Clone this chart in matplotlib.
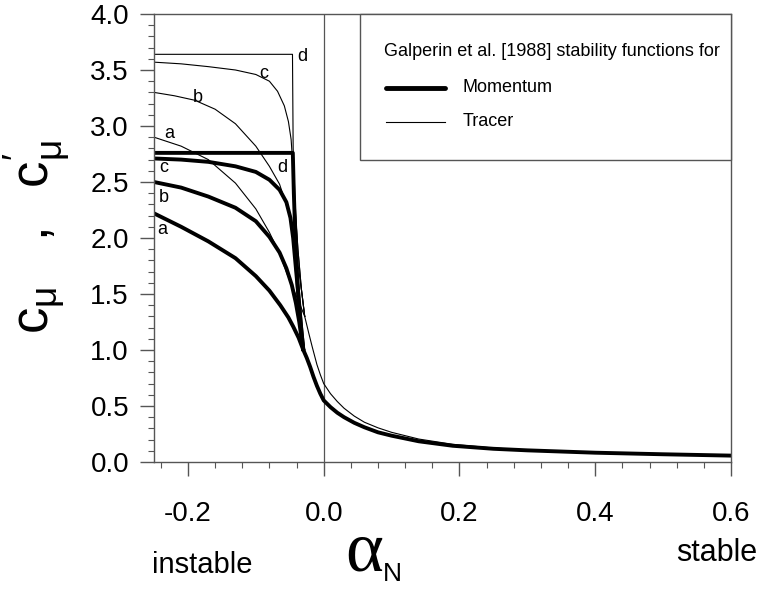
import matplotlib
matplotlib.use("Agg")
import matplotlib.pyplot as plt
from matplotlib.ticker import MultipleLocator
from matplotlib.lines import Line2D
from matplotlib.patches import Rectangle

plt.rcParams['font.family'] = ['Liberation Sans', 'DejaVu Sans']
plt.rcParams['mathtext.fontset'] = 'custom'
plt.rcParams['mathtext.rm'] = 'Liberation Sans'
plt.rcParams['mathtext.it'] = 'Liberation Sans'

# ---- data ----
# momentum (thick) curves, unstable branch
mom_a_x = [-0.25, -0.21, -0.17, -0.13, -0.10, -0.08, -0.064, -0.052, -0.045, -0.037, -0.03]
mom_a_y = [2.22, 2.10, 1.97, 1.82, 1.66, 1.53, 1.40, 1.29, 1.21, 1.11, 1.00]
mom_b_x = [-0.25, -0.21, -0.17, -0.13, -0.10, -0.08, -0.065, -0.055, -0.047, -0.041, -0.036,
           -0.033, -0.03]
mom_b_y = [2.50, 2.45, 2.37, 2.27, 2.15, 2.01, 1.87, 1.73, 1.58, 1.42, 1.25, 1.12, 1.00]
mom_c_x = [-0.25, -0.21, -0.17, -0.13, -0.10, -0.08, -0.065, -0.055, -0.049, -0.045,
           -0.042, -0.039, -0.036, -0.033, -0.03]
mom_c_y = [2.71, 2.70, 2.68, 2.64, 2.59, 2.52, 2.43, 2.32, 2.18, 2.00,
           1.80, 1.60, 1.40, 1.18, 1.00]
mom_d_x = [-0.25, -0.0455, -0.044, -0.042, -0.040, -0.037, -0.033, -0.03]
mom_d_y = [2.76, 2.76, 2.40, 2.05, 1.75, 1.45, 1.18, 1.00]
# momentum, common stable branch
mom_tail_x = [-0.03, -0.025, -0.02, -0.015, -0.01, -0.005, 0.0, 0.01, 0.02, 0.03, 0.045,
              0.06, 0.08, 0.10, 0.14, 0.19, 0.25, 0.30, 0.40, 0.50, 0.60]
mom_tail_y = [1.00, 0.93, 0.85, 0.76, 0.68, 0.61, 0.55, 0.49, 0.44, 0.40, 0.35,
              0.31, 0.265, 0.235, 0.185, 0.145, 0.118, 0.104, 0.083, 0.069, 0.057]

# tracer (thin) curves, unstable branch
tra_a_x = [-0.25, -0.21, -0.17, -0.13, -0.10, -0.08, -0.065, -0.054, -0.045, -0.036, -0.028]
tra_a_y = [2.90, 2.82, 2.70, 2.49, 2.26, 2.05, 1.86, 1.68, 1.55, 1.42, 1.30]
tra_b_x = [-0.25, -0.22, -0.19, -0.16, -0.13, -0.10, -0.08, -0.065, -0.05, -0.042, -0.036,
           -0.032, -0.028]
tra_b_y = [3.30, 3.27, 3.23, 3.15, 3.02, 2.82, 2.64, 2.48, 2.20, 1.95, 1.68, 1.50, 1.30]
tra_c_x = [-0.25, -0.21, -0.17, -0.13, -0.10, -0.08, -0.068, -0.058, -0.052, -0.048,
           -0.046, -0.044, -0.042, -0.038, -0.033, -0.028]
tra_c_y = [3.57, 3.555, 3.53, 3.50, 3.46, 3.40, 3.31, 3.18, 3.04, 2.88,
           2.70, 2.45, 2.25, 1.90, 1.55, 1.30]
tra_d_x = [-0.25, -0.046, -0.045, -0.042, -0.038, -0.033, -0.028]
tra_d_y = [3.64, 3.64, 2.80, 2.30, 1.90, 1.55, 1.30]
# tracer, common stable branch
tra_tail_x = [-0.028, -0.022, -0.017, -0.01, -0.005, 0.0, 0.01, 0.02, 0.03, 0.045, 0.06,
              0.08, 0.10, 0.14, 0.19, 0.25, 0.30, 0.40, 0.50, 0.60]
tra_tail_y = [1.30, 1.15, 1.03, 0.87, 0.78, 0.70, 0.61, 0.54, 0.48, 0.41, 0.355,
              0.305, 0.265, 0.205, 0.158, 0.125, 0.108, 0.086, 0.071, 0.058]

curve_names = ['a', 'b', 'c', 'd']
mom_curves = [(mom_a_x, mom_a_y), (mom_b_x, mom_b_y), (mom_c_x, mom_c_y), (mom_d_x, mom_d_y)]
tra_curves = [(tra_a_x, tra_a_y), (tra_b_x, tra_b_y), (tra_c_x, tra_c_y), (tra_d_x, tra_d_y)]

# label anchor points (data coords)
mom_label_x = [-0.238, -0.236, -0.235, -0.061]
mom_label_y = [2.08, 2.36, 2.625, 2.625]
tra_label_x = [-0.2275, -0.186, -0.089, -0.032]
tra_label_y = [2.93, 3.25, 3.47, 3.62]

W, H = 759, 590
fig = plt.figure(figsize=(W / 100, H / 100), dpi=100)
ax = fig.add_axes([154 / W, 1 - 462 / H, (731 - 154) / W, (462 - 14) / H])

ax.axvline(0, color='#555555', lw=0.9, zorder=1)

for (x, y) in tra_curves:
    ax.plot(x, y, color='black', lw=0.8, solid_joinstyle='round')
ax.plot(tra_tail_x, tra_tail_y, color='black', lw=0.8)

for (x, y) in mom_curves:
    ax.plot(x, y, color='black', lw=2.8, solid_joinstyle='round', solid_capstyle='round')
ax.plot(mom_tail_x, mom_tail_y, color='black', lw=2.8, solid_joinstyle='round',
        solid_capstyle='round')

for n, lx, ly in zip(curve_names, mom_label_x, mom_label_y):
    ax.text(lx, ly, n, fontsize=13, ha='center', va='center')
for n, lx, ly in zip(curve_names, tra_label_x, tra_label_y):
    ax.text(lx, ly, n, fontsize=13, ha='center', va='center')

ax.set_xlim(-0.25, 0.6)
ax.set_ylim(0, 4)
ax.xaxis.set_major_locator(MultipleLocator(0.2))
ax.xaxis.set_minor_locator(MultipleLocator(0.04))
ax.yaxis.set_major_locator(MultipleLocator(0.5))
ax.yaxis.set_minor_locator(MultipleLocator(0.1))
ax.set_xticks([-0.2, 0.0, 0.2, 0.4, 0.6])
ax.set_xticklabels(['-0.2', '0.0', '0.2', '0.4', '0.6'])
ax.set_yticks([0.0, 0.5, 1.0, 1.5, 2.0, 2.5, 3.0, 3.5, 4.0])
ax.set_yticklabels(['%.1f' % v for v in ax.get_yticks()])

for s in ax.spines.values():
    s.set_color('#555555')
    s.set_linewidth(1.0)
ax.tick_params(which='major', direction='out', length=10, width=1.0, color='#555555', labelsize=20)
ax.tick_params(which='minor', direction='out', length=4.5, width=0.8, color='#555555')
ax.tick_params(axis='x', which='major', pad=18)
ax.tick_params(axis='y', which='major', pad=8)

# y label
fig.text(36 / W, 1 - 237 / H, r"$\mathrm{c_{\mu}\ \ \ ,\ \ c^{\prime}_{\mu}}$", rotation=90,
         fontsize=38, ha='center', va='center')
# x label pieces
fig.text(152 / W, 1 - 565 / H, 'instable', fontsize=21, ha='left', va='center')
fig.text(757 / W, 1 - 553 / H, 'stable', fontsize=22, ha='right', va='center')
fig.text(383 / W, 1 - 553 / H, u'\u03b1', family='Liberation Serif', fontsize=52,
         ha='right', va='center')
fig.text(383 / W, 1 - 574 / H, 'N', fontsize=19, ha='left', va='center')

# legend box
fig.add_artist(Rectangle((360 / W, 1 - 160 / H), 371 / W, 146 / H, transform=fig.transFigure,
                         fill=True, fc='white', ec='#555555', lw=1.0))
fig.text(384 / W, 1 - 52 / H, 'Galperin et al. [1988] stability functions for',
         fontsize=13, ha='left', va='center')
fig.add_artist(Line2D([386 / W, 445 / W], [1 - 88 / H] * 2, color='black', lw=3.5,
                      solid_capstyle='round', transform=fig.transFigure))
fig.text(463 / W, 1 - 88 / H, 'Momentum', fontsize=13, ha='left', va='center')
fig.add_artist(Line2D([386 / W, 445 / W], [1 - 122 / H] * 2, color='black', lw=0.8,
                      transform=fig.transFigure))
fig.text(463 / W, 1 - 122 / H, 'Tracer', fontsize=13, ha='left', va='center')

fig.savefig('out.png', dpi=100)
